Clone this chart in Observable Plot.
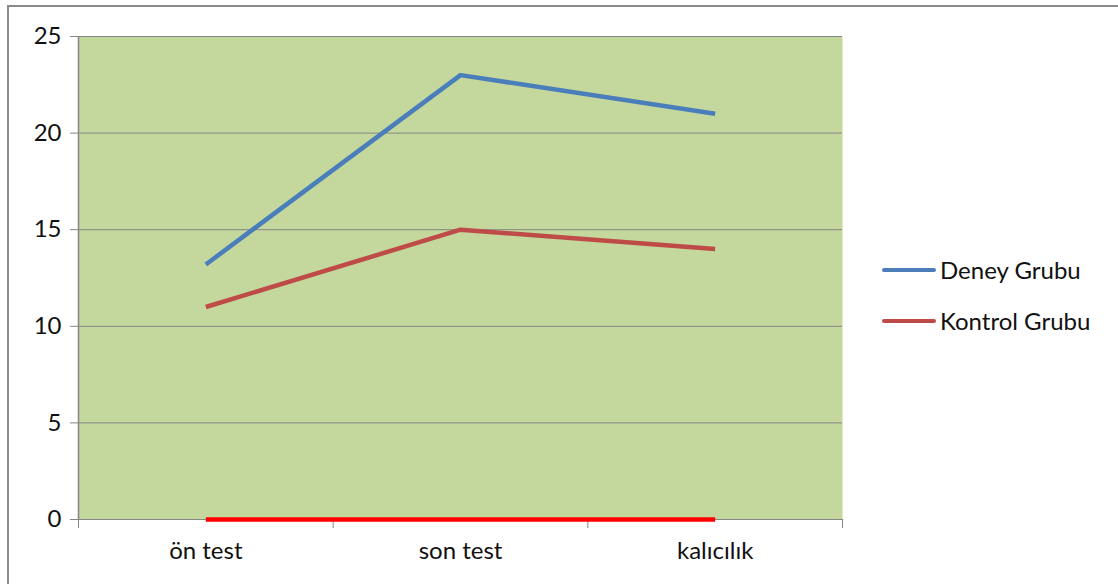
<!DOCTYPE html>
<html>
<head>
<meta charset="utf-8">
<script src="https://cdn.jsdelivr.net/npm/d3@7"></script>
<script src="https://cdn.jsdelivr.net/npm/@observablehq/plot@0.6"></script>
<style>
  html, body { margin: 0; padding: 0; background: #fff; }
  #wrap { position: relative; width: 1118px; height: 584px; overflow: hidden; font-family: Lato, "Open Sans", sans-serif; }
  #frame { position: absolute; left: 7px; top: 5px; width: 1200px; height: 700px; border-left: 2px solid #8a8a8a; border-top: 2px solid #8a8a8a; }
  #chart { position: absolute; left: 0; top: 0; }
  .leg { position: absolute; left: 882px; font-size: 24px; color: #111; display: flex; align-items: center; }
  .leg .sw { width: 54px; height: 4px; margin-right: 4px; border-radius: 2px; }
</style>
</head>
<body>
<div id="wrap">
  <div id="frame"></div>
  <div id="chart"></div>
  <div id="legend"></div>
</div>
<script>
const categories = ["ön test", "son test", "kalıcılık"];
const seriesNames = ["Deney Grubu", "Kontrol Grubu", "Seri 3"];
const deneyValues = [13.2, 23, 21];
const kontrolValues = [11, 15, 14];
const seri3Values = [0, 0, 0];
const yTicks = [0, 5, 10, 15, 20, 25];
const colors = ["#4a7ebb", "#be4b48", "#ff0000"];

const allSeries = [deneyValues, kontrolValues, seri3Values];
const data = [];
allSeries.forEach((vals, s) => vals.forEach((v, i) => data.push({series: seriesNames[s], idx: i, cat: categories[i], value: v})));

const bounds = d3.range(categories.length + 1).map(i => i - 0.5);
const centers = d3.range(categories.length);

const chart = Plot.plot({
  width: 1118,
  height: 584,
  marginLeft: 78,
  marginRight: 276,
  marginTop: 36,
  marginBottom: 65,
  style: {fontFamily: "Lato, 'Open Sans', sans-serif", fontSize: "24px", color: "#111", background: "transparent"},
  x: {type: "linear", domain: [-0.5, categories.length - 0.5], label: null},
  y: {domain: [0, 25], label: null},
  color: {domain: seriesNames, range: colors},
  marks: [
    Plot.frame({fill: "#c4d79c", stroke: null}),
    Plot.ruleY(yTicks, {stroke: "#868686", strokeWidth: 1}),
    Plot.ruleX([-0.5], {stroke: "#868686", strokeWidth: 1.5}),
    Plot.axisY({ticks: yTicks, tickSize: 8, tickPadding: 9, stroke: "#868686", fill: "#111", fontSize: 24, label: null}),
    Plot.axisX({ticks: bounds, tickSize: 9, tickFormat: () => "", stroke: "#868686", label: null}),
    Plot.axisX({ticks: centers, tickSize: 0, tickPadding: 22, tickFormat: i => categories[i], fill: "#111", fontSize: 24, label: null}),
    Plot.line(data, {x: "idx", y: "value", z: "series", stroke: "series", strokeWidth: 4.5, strokeLinejoin: "round", strokeLinecap: "butt"})
  ]
});
document.getElementById("chart").appendChild(chart);

const legend = document.getElementById("legend");
[0, 1].forEach((s, k) => {
  const d = document.createElement("div");
  d.className = "leg";
  d.style.top = (255 + k * 51) + "px";
  d.innerHTML = `<div class="sw" style="background:${colors[s]}"></div><span>${seriesNames[s]}</span>`;
  legend.appendChild(d);
});
</script>
</body>
</html>
